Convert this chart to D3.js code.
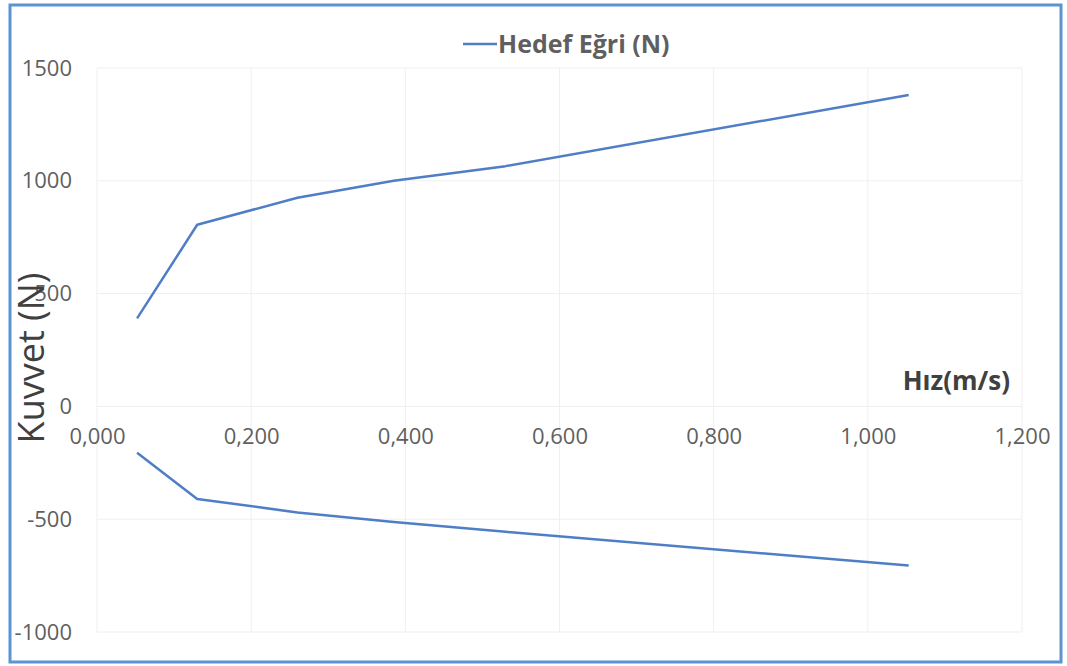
<!DOCTYPE html>
<html>
<head>
<meta charset="utf-8">
<script src="https://cdn.jsdelivr.net/npm/d3@7"></script>
<style>
  html, body { margin: 0; padding: 0; background: #fff; }
  svg { display: block; font-family: 'Open Sans', sans-serif; }
</style>
</head>
<body>
<div id="chart"></div>
<script>
// Hedef Eğri — kuvvet / hız
const speeds     = [0.052, 0.13, 0.26, 0.385, 0.53, 1.053];
const forceUpper = [390, 805, 925, 1000, 1065, 1380];
const forceLower = [-205, -410, -470, -512, -556, -705];
const xTicks     = [0, 0.2, 0.4, 0.6, 0.8, 1.0, 1.2];
const yTicks     = [-1000, -500, 0, 500, 1000, 1500];
const legendLabel = 'Hedef Eğri (N)';

const W = 1067, H = 666;
const margin = { top: 68, right: 45, bottom: 34, left: 97 };
const lineColor = '#4f7ec6';
const textColor = '#5f5f5f';

const svg = d3.select('#chart').append('svg').attr('width', W).attr('height', H);

const x = d3.scaleLinear().domain([0, 1.2]).range([margin.left, W - margin.right]);
const y = d3.scaleLinear().domain([-1000, 1500]).range([H - margin.bottom, margin.top]);

// grid (very faint, as in the scan)
const gGrid = svg.append('g').attr('stroke', '#efefef').attr('stroke-width', 1);
gGrid.selectAll('.gx').data(xTicks).join('line')
  .attr('x1', d => x(d)).attr('x2', d => x(d))
  .attr('y1', y(1500)).attr('y2', y(-1000));
gGrid.selectAll('.gy').data(yTicks).join('line')
  .attr('x1', x(0)).attr('x2', x(1.2))
  .attr('y1', d => y(d)).attr('y2', d => y(d));

// y axis labels (plain hyphen for negatives)
const yAxis = d3.axisLeft(y).tickValues(yTicks).tickSize(0).tickPadding(0)
  .tickFormat(d => String(d));
svg.append('g').attr('transform', 'translate(72,0)').call(yAxis)
  .call(g => g.select('.domain').remove())
  .call(g => g.selectAll('text').attr('fill', textColor)
    .style('font-size', '22px').style('font-family', "'Open Sans', sans-serif"));

// x axis labels hanging under y = 0
const fmtX = d => d3.format('.3f')(d).replace('.', ',');
const xAxis = d3.axisBottom(x).tickValues(xTicks).tickSize(0).tickPadding(22).tickFormat(fmtX);
svg.append('g').attr('transform', `translate(0,${y(0)})`).call(xAxis)
  .call(g => g.select('.domain').remove())
  .call(g => g.selectAll('text').attr('fill', textColor)
    .style('font-size', '22px').style('font-family', "'Open Sans', sans-serif"));

// lines
const line = d3.line().x(d => x(d[0])).y(d => y(d[1]));
[forceUpper, forceLower].forEach(series => {
  svg.append('path')
    .datum(speeds.map((s, i) => [s, series[i]]))
    .attr('d', line)
    .attr('fill', 'none')
    .attr('stroke', lineColor)
    .attr('stroke-width', 2.5)
    .attr('stroke-linejoin', 'round');
});

// legend
svg.append('line')
  .attr('x1', 463).attr('x2', 497).attr('y1', 44).attr('y2', 44)
  .attr('stroke', lineColor).attr('stroke-width', 2.5);
svg.append('text')
  .attr('x', 498).attr('y', 53)
  .attr('fill', textColor)
  .style('font-size', '25px').style('font-weight', 'bold')
  .text(legendLabel);

// axis titles
svg.append('text')
  .attr('transform', `translate(44,358) rotate(-90)`)
  .attr('text-anchor', 'middle')
  .attr('fill', '#404040')
  .style('font-size', '36px')
  .text('Kuvvet (N)');
svg.append('text')
  .attr('x', 1010).attr('y', 390)
  .attr('text-anchor', 'end')
  .attr('fill', '#404040')
  .style('font-size', '26px').style('font-weight', 'bold')
  .text('Hız(m/s)');

// frame
svg.append('rect')
  .attr('x', 10).attr('y', 5).attr('width', 1051).attr('height', 657)
  .attr('fill', 'none').attr('stroke', '#5b93d3').attr('stroke-width', 3);
</script>
</body>
</html>
